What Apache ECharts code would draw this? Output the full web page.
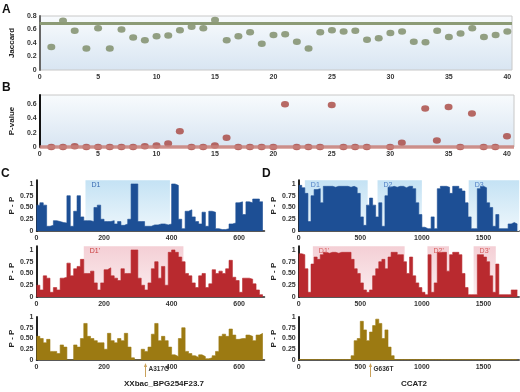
<!DOCTYPE html>
<html><head><meta charset="utf-8">
<script src="https://cdn.jsdelivr.net/npm/echarts/dist/echarts.min.js"></script>
<style>html,body{margin:0;padding:0;background:#fff}#c{width:520px;height:392px}</style>
</head><body><div id="c"></div>
<script>
// ---------- data ----------
const sampleIndex = [1,2,3,4,5,6,7,8,9,10,11,12,13,14,15,16,17,18,19,20,21,22,23,24,25,26,27,28,29,30,31,32,33,34,35,36,37,38,39,40];
const jaccard = [0.34,0.73,0.58,0.32,0.62,0.32,0.60,0.48,0.44,0.50,0.51,0.59,0.64,0.62,0.74,0.44,0.50,0.56,0.39,0.52,0.53,0.42,0.32,0.56,0.59,0.57,0.58,0.45,0.47,0.55,0.57,0.42,0.41,0.58,0.49,0.54,0.62,0.49,0.52,0.57];
const pValue = [0,0,0.01,0,0,0,0,0,0.01,0.02,0.05,0.22,0,0,0.02,0.13,0,0,0,0,0.60,0,0,0,0.59,0,0,0,null,0,0.06,null,0.54,0.09,0.56,0,0.47,0,0,0.15];
const jaccardThreshold = 0.7;
const pThreshold = 0;

const cStep = 10;   // nucleotide bin width, panel C
const cBlue = [0.55,0.6,0.55,0.1,0.12,0.22,0.2,0.18,0.17,0.75,0.1,0.42,0.75,0.3,0.22,0.22,0.2,0.5,0.55,0.25,0.2,0.2,0.22,0.15,0.2,0.12,0.15,0.25,1,1,0.2,0.2,0.1,0.1,0.13,0.13,0.15,0.15,0.13,0.15,1,0.97,0.25,0.05,0.42,0.45,0.3,0.2,0.15,0.4,0.1,0.42,0.4,0.05,0.03,0.03,0.05,0.15,0.17,0.6,0.62,0.35,0.62,0.6,0.68,0.68,0.62];
const cRed  = [0.25,0.15,0.45,0.4,0.1,0.2,0.15,0.4,0.42,0.72,0.45,0.6,0.65,0.8,0.5,0.5,0.55,0.3,0.15,0.3,0.58,0.62,0.45,0.4,0.35,0.6,0.5,0.5,1,1,0.4,0.25,0.15,0.3,0.6,0.75,0.4,0.65,0.25,0.95,1,0.95,0.85,0.75,0.5,0.45,0.3,0.2,0.45,0.5,0.2,0.28,0.58,0.5,0.55,0.5,0.6,0.78,0.42,0.35,0.1,0.4,0.4,0.38,0.28,0.15,0.05];
const cGold = [0.55,0.5,0.4,0.48,0.2,0.2,0.15,0.35,0.3,0,0,0.35,0.3,0.5,0.85,0.55,0.5,0.45,0.4,0.4,0.25,0.62,0.45,0.4,0.5,0.45,0.62,0.3,0.05,0,0,0.25,0.2,0.3,0.6,0.85,0.45,0.55,0.45,0.3,0.12,0.08,0.5,0.75,0.2,0.15,0.1,0.06,0.12,0.08,0.03,0.05,0.1,0.2,0.55,0.6,0.55,0.72,0.58,0.48,0.5,0.5,0.58,0.55,0.45,0.58,0.62];

const dStep = 25;   // nucleotide bin width, panel D
const dBlue = [0.97,0.92,0.8,0.2,0.75,0.88,0.9,0.6,0.95,0.95,0.95,0.93,0.95,0.95,0.95,0.95,0.93,0.95,0.92,0.8,0.3,0.12,0.55,0.7,0.55,0.3,0.6,0.1,0.75,0.93,0.95,0.93,0.95,0.95,0.92,0.95,0.95,0.9,0.6,0.35,0.08,0.05,0.05,0.3,0.05,0.9,0.95,0.95,0.93,0.8,0.95,0.95,0.9,0.85,0.6,0.3,0.05,0.05,0.9,0.95,0.92,0.6,0.5,0.1,0.35,0.05,0.05,0.05,0.15,0.18,0.15];
const dRed  = [0.92,0.9,0.6,0.1,0.7,0.85,0.8,0.9,0.95,0.93,0.95,0.95,0.93,0.95,0.95,0.95,0.95,0.8,0.6,0.5,0.3,0.15,0.1,0.15,0.45,0.6,0.75,0.8,0.6,0.85,0.95,0.95,0.9,0.9,0.75,0.5,0.85,0.45,0.3,0.2,0.1,0.05,0.9,0.1,0.3,0.95,0.95,0.95,0.55,0.9,0.95,0.95,0.9,0.5,0.2,0.05,0.05,0.05,0.9,0.9,0.85,0.75,0.45,0.1,0.7,0.05,0.05,0.05,0.05,0.15,0.15];
const dGold = [0.01,0.01,0.01,0.01,0.01,0.01,0.01,0.01,0.01,0.01,0.01,0.01,0.01,0.01,0.01,0.01,0.01,0.1,0.45,0.5,0.9,0.7,0.45,0.65,0.8,0.95,0.85,0.5,0.7,0.3,0.1,0.01,0.01,0.01,0.01,0.01,0.01,0.01,0.01,0.01,0.01,0.01,0.01,0.01,0.01,0.01,0.01,0.01,0.01,0.01,0.01,0.01,0.01,0.01,0.01,0.01,0.01,0.01,0.01,0.01,0.01,0.01,0.01,0.01,0.01,0.01,0.01,0.01,0.01,0.01,0.01];

const cRegionsBlue = [["D1",145,395]];
const cRegionsRed  = [["D1'",140,435]];
const dRegionsBlue = [["D1",50,560],["D2",640,1000],["D3",1380,1790]];
const dRegionsRed  = [["D1'",115,860],["D2'",1045,1220],["D3'",1420,1600]];
const cMutation = [320, "A317G"];
const dMutation = [580, "G636T"];
const cGene = "XXbac_BPG254F23.7";
const dGene = "CCAT2";

// ---------- chart ----------
const FONT = "Liberation Sans";
const BLUE = "#1d4f95", RED = "#b92a2f", GOLD = "#9c7a12";
const lbl = {fontSize:7, fontWeight:"bold", color:"#333", fontFamily:FONT};
const nameStyle = {fontSize:8, fontWeight:"bold", color:"#222", fontFamily:FONT};
const boxBg = {type:"linear",x:0,y:0,x2:0,y2:1,colorStops:[{offset:0,color:"#f8fbfd"},{offset:1,color:"#d8e5f2"}]};
const blueReg = {type:"linear",x:0,y:0,x2:0,y2:1,colorStops:[{offset:0,color:"#c4e2f4"},{offset:1,color:"#eef7fc"}]};
const redReg = {type:"linear",x:0,y:0,x2:0,y2:1,colorStops:[{offset:0,color:"#f4cfd5"},{offset:1,color:"#fbeef0"}]};

const grids = [
  {left:32, top:16, width:480, height:54, show:true, backgroundColor:boxBg, borderColor:"#c8c8c8", borderWidth:1},
  {left:32, top:95, width:482, height:52, show:true, backgroundColor:boxBg, borderColor:"#c8c8c8", borderWidth:1},
  {left:36.5, top:180.2, width:228, height:50.8},
  {left:36.5, top:246.2, width:228, height:50.8},
  {left:36.5, top:317, width:228, height:43},
  {left:298.7, top:180.2, width:220.5, height:50.8},
  {left:298.7, top:246.2, width:220.5, height:50.8},
  {left:298.7, top:317, width:220.5, height:43}
];

function xAx(gi, max, interval, line) {
  return {gridIndex:gi, type:"value", min:0, max:max, interval:interval,
    axisLine:{show:line, onZero:false, lineStyle:{color:"#222", width:1.5}},
    axisTick:{show:false}, splitLine:{show:false},
    axisLabel:Object.assign({}, lbl, {margin:4, showMaxLabel:false, formatter: v => String(v)})};
}
const fmt1 = v => v === 0 ? "0" : v.toFixed(1);
const fmt2 = v => v === 0 ? "0" : (v === 1 ? "1" : v.toFixed(2));
function yAx(gi, max, interval, fmt, name, gap, color) {
  return {gridIndex:gi, type:"value", min:0, max:max, interval:interval,
    axisLine:{show:true, lineStyle:{color:color, width:2}},
    axisTick:{show:false}, splitLine:{show:false},
    axisLabel:Object.assign({}, lbl, {margin:3, formatter:fmt, showMaxLabel: (max===1 || max===0.8)}),
    name:name, nameLocation:"middle", nameGap:gap, nameTextStyle:nameStyle};
}

function steps(vals, step) {
  const d = vals.map((v,i) => [i*step, v]);
  d.push([vals.length*step, vals[vals.length-1]]);
  return d;
}
function stepSeries(gi, vals, step, color) {
  return {type:"line", xAxisIndex:gi, yAxisIndex:gi, data:steps(vals, step), step:"end",
    symbol:"none", silent:true, z:3, lineStyle:{width:0.6, color:color},
    areaStyle:{color:color, opacity:1}};
}
function regionSeries(gi, regions, fill) {
  return {type:"line", xAxisIndex:gi, yAxisIndex:gi, data:[[0,0]], symbol:"none", silent:true, z:1,
    lineStyle:{width:0},
    markArea:{silent:true, itemStyle:{color:fill}, label:{show:false},
      data:regions.map(r => [{xAxis:r[1]}, {xAxis:r[2]}])}};
}

const series = [
  {type:"scatter", xAxisIndex:0, yAxisIndex:0, data:sampleIndex.map((x,i)=>[x, jaccard[i]]),
   symbol:"circle", symbolSize:[8,6.5], itemStyle:{color:"#7a8a64"}, z:4,
   markLine:{silent:true, symbol:"none", label:{show:false},
     lineStyle:{color:"#8c9b76", width:3, type:"solid"}, data:[{yAxis:jaccardThreshold}]}},
  {type:"scatter", xAxisIndex:1, yAxisIndex:1, data:sampleIndex.map((x,i)=>[x, pValue[i]]),
   symbol:"circle", symbolSize:[8,6.5], itemStyle:{color:"#a8453f"}, z:4,
   markLine:{silent:true, symbol:"none", label:{show:false},
     lineStyle:{color:"#c9817b", width:3.5, type:"solid", opacity:0.85}, data:[{yAxis:pThreshold}]}},
  regionSeries(2, cRegionsBlue, blueReg),
  stepSeries(2, cBlue, cStep, BLUE),
  regionSeries(3, cRegionsRed, redReg),
  stepSeries(3, cRed, cStep, RED),
  stepSeries(4, cGold, cStep, GOLD),
  regionSeries(5, dRegionsBlue, blueReg),
  stepSeries(5, dBlue, dStep, BLUE),
  regionSeries(6, dRegionsRed, redReg),
  stepSeries(6, dRed, dStep, RED),
  stepSeries(7, dGold, dStep, GOLD)
];

function letter(id, t, x, y) {
  return {id:id, type:"text", x:x, y:y, style:{text:t, font:"bold 12px "+FONT, fill:"#111"}};
}
const baseGraphic = [
  letter("la","A",2,4), letter("lb","B",2,82), letter("lc","C",1,168), letter("ld","D",262,168),
  {id:"gc", type:"text", x:164, y:384, style:{text:cGene, font:"bold 8px "+FONT, fill:"#222", align:"center", verticalAlign:"middle"}},
  {id:"gd", type:"text", x:414, y:384, style:{text:dGene, font:"bold 8px "+FONT, fill:"#222", align:"center", verticalAlign:"middle"}}
];

const chart = echarts.init(document.getElementById("c"), null, {renderer:"canvas"});
chart.setOption({
  animation:false,
  grid:grids,
  xAxis:[xAx(0,40.4,5,false), xAx(1,40.6,5,false), xAx(2,675,200,true), xAx(3,675,200,true), xAx(4,675,200,true),
         xAx(5,1790,500,true), xAx(6,1790,500,true), xAx(7,1790,500,true)],
  yAxis:[yAx(0,0.8,0.2,fmt1,"Jaccard",16,"#666"), yAx(1,0.73,0.2,fmt1,"P-value",16,"#111"),
         yAx(2,1.08,0.25,fmt2,"P - P",19,"#222"), yAx(3,1.08,0.25,fmt2,"P - P",19,"#222"), yAx(4,1,0.25,fmt2,"P - P",19,"#222"),
         yAx(5,1.08,0.25,fmt2,"P - P",19,"#222"), yAx(6,1.08,0.25,fmt2,"P - P",19,"#222"), yAx(7,1,0.25,fmt2,"P - P",19,"#222")],
  series:series,
  graphic:baseGraphic
});

function marker(prefix, gi, m) {
  const p = chart.convertToPixel({gridIndex:gi}, [m[0], 0]);
  const x = Math.round(p[0]) + 0.5, y = p[1];
  return [
    {id:prefix+"l", type:"line", shape:{x1:x, y1:y+5, x2:x, y2:y+17}, style:{stroke:"#c9a15a", lineWidth:1}},
    {id:prefix+"a", type:"polygon", shape:{points:[[x-1.6,y+7],[x+1.6,y+7],[x,y+3]]}, style:{fill:"#c9a15a"}},
    {id:prefix+"t", type:"text", x:x+3, y:y+9, style:{text:m[1], font:"bold 6.5px "+FONT, fill:"#333", verticalAlign:"middle"}}
  ];
}
function regionLabels(prefix, gi, regions, color) {
  return regions.map((r, i) => {
    const p = chart.convertToPixel({gridIndex:gi}, [r[1], 1.08]);
    return {id:prefix+i, type:"text", x:p[0]+6, y:p[1]+1, z:50,
      style:{text:r[0], font:"7px "+FONT, fill:color}};
  });
}
chart.setOption({graphic: baseGraphic.concat(
  marker("mc",4,cMutation), marker("md",7,dMutation),
  regionLabels("rcb",2,cRegionsBlue,"#3a6cb3"), regionLabels("rcr",3,cRegionsRed,"#c93c3c"),
  regionLabels("rdb",5,dRegionsBlue,"#4f7fc4"), regionLabels("rdr",6,dRegionsRed,"#d65c5c"))});
</script>
</body></html>
